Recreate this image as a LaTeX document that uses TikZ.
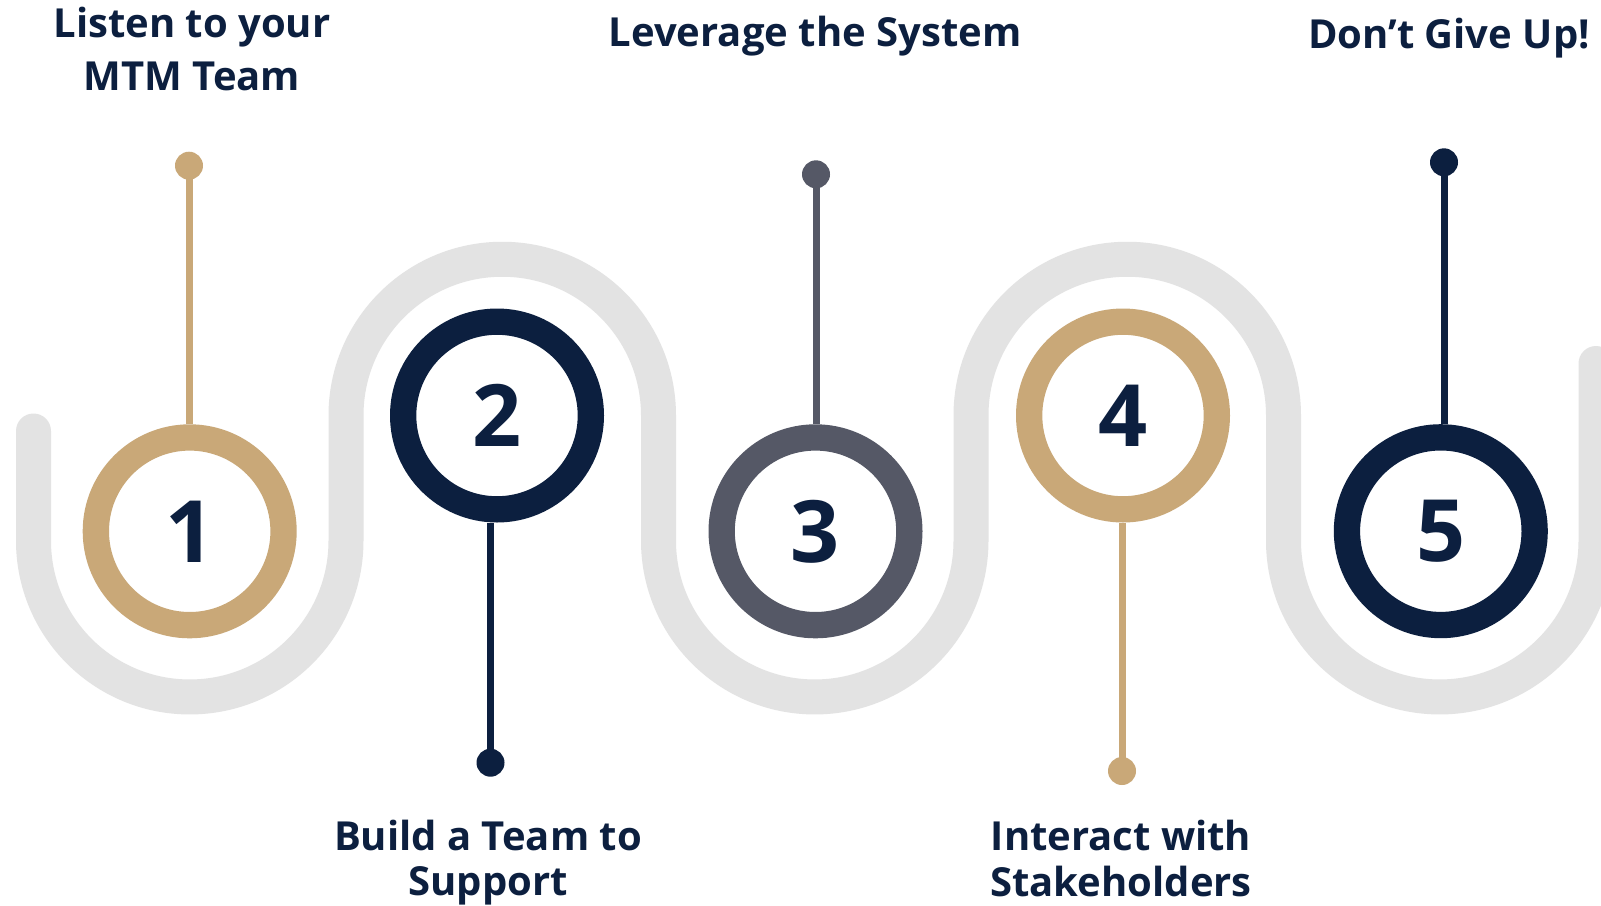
\documentclass[tikz,border=0pt]{standalone}
\usepackage{fontspec}
\setmainfont{Open Sans}
\definecolor{navy}{HTML}{0C1F3F}
\definecolor{gold}{HTML}{C9A878}
\definecolor{slate}{HTML}{555866}
\definecolor{wavegray}{HTML}{E3E3E3}
\begin{document}
\begin{tikzpicture}[x=1pt,y=1pt,
  ring/.style={circle, draw=#1, line width=26.3pt, fill=white, minimum size=187.7pt, inner sep=0pt,
    font=\fontsize{86}{86}\selectfont\bfseries, text=navy},
  dotnode/.style={circle, fill=#1, minimum size=28pt, inner sep=0pt},
  stem/.style={draw=#1, line width=7pt},
  heading/.style={font=\fontsize{40}{#1}\selectfont\bfseries, text=navy, align=center, inner sep=0pt, anchor=base},
  heading/.default=46]
\fill[white] (0,0) rectangle (1601,-905);
\useasboundingbox (0,0) rectangle (1601,-905);
\draw[wavegray, line width=35pt, line cap=round]
  (33.5,-431) -- (33.5,-540.7)
  arc[start angle=180, end angle=360, radius=156.25] -- (346,-415.5)
  arc[start angle=180, end angle=0, radius=156.25] -- (658.5,-540.7)
  arc[start angle=180, end angle=360, radius=156.25] -- (971,-415.5)
  arc[start angle=180, end angle=0, radius=156.25] -- (1283.5,-540.7)
  arc[start angle=180, end angle=360, radius=156.25] -- (1596,-363.5);
\node[ring=gold]  (c1) at (189.7,-531.3) {1};
\node[ring=navy]  (c2) at (497,-415.5) {2};
\node[ring=slate] (c3) at (815.5,-531.3) {3};
\node[ring=gold]  (c4) at (1123,-415.5) {4};
\node[ring=navy]  (c5) at (1440.8,-531.2) {5};
\node[dotnode=gold]  (d1) at (189,-165.7) {};
\node[dotnode=navy]  (d2) at (490.5,-762.7) {};
\node[dotnode=slate] (d3) at (816,-174.3) {};
\node[dotnode=gold]  (d4) at (1122,-771) {};
\node[dotnode=navy]  (d5) at (1444,-162.3) {};
\draw[stem=gold]  (d1.center) -- (d1 |- c1.north);
\draw[stem=navy]  (d2.center) -- (d2 |- c2.south);
\draw[stem=slate] (d3.center) -- (d3 |- c3.north);
\draw[stem=gold]  (d4.center) -- (d4 |- c4.south);
\draw[stem=navy]  (d5.center) -- (d5 |- c5.north);
\node[heading=52.3] (t1) at (192,-90) {Listen to your\\MTM Team};
\node[heading] (t2) at (815,-46.7) {Leverage the System};
\node[heading] (t3) at (1449,-48.3) {Don’t Give Up!};
\node[heading=45.5] (t4) at (488,-895.5) {Build a Team to\\Support};
\node[heading=46.5] (t5) at (1121,-896.7) {Interact with\\Stakeholders};
\end{tikzpicture}
\end{document}
